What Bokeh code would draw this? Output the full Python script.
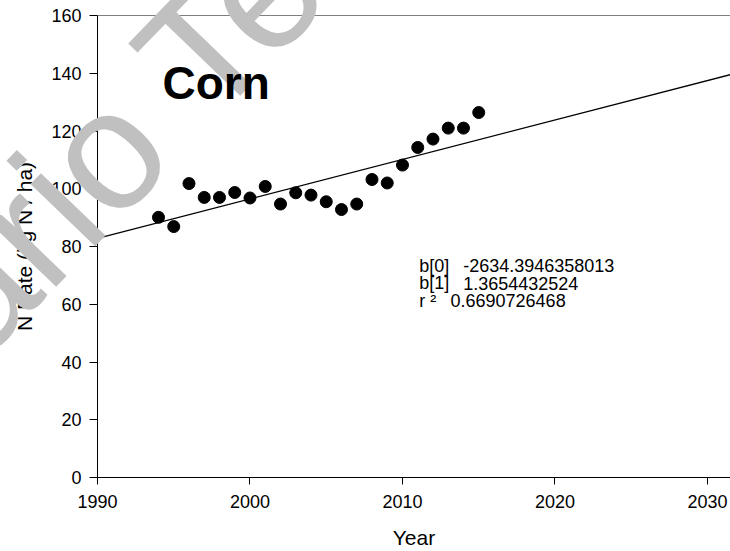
import math
from bokeh.plotting import figure
from bokeh.models import Label, Span, Range1d, ColumnDataSource
from bokeh.core.properties import value
from bokeh.embed import file_html
from bokeh.resources import INLINE

# ---- data ----
years = [1994, 1995, 1996, 1997, 1998, 1999, 2000, 2001, 2002, 2003, 2004,
         2005, 2006, 2007, 2008, 2009, 2010, 2011, 2012, 2013, 2014, 2015]
n_rate = [90.1, 86.9, 101.8, 97.0, 97.0, 98.7, 96.8, 100.8, 94.7, 98.6, 97.8,
          95.5, 92.8, 94.7, 103.2, 102.0, 108.2, 114.3, 117.2, 121.0, 121.0, 126.4]
b0 = -2634.3946358013
b1 = 1.3654432524
r2 = 0.6690726468
x_ticks = [1990, 2000, 2010, 2020, 2030]
y_ticks = [0, 20, 40, 60, 80, 100, 120, 140, 160]
x_start, x_end = 1990, 2031.51
y_start, y_end = 0, 160
title_text = "Corn"
x_title = "Year"
y_title = "N Rate (kg N / ha)"
stat_names = ["b[0]", "b[1]", "r \u00b2"]
stat_values = ["-2634.3946358013", "1.3654432524", "0.6690726468"]
watermark_text = "ario Te"

FONT = "Liberation Sans"

p = figure(width=730, height=551, output_backend="svg", toolbar_location=None,
           x_range=Range1d(x_start, x_end), y_range=Range1d(y_start, y_end),
           min_border_left=97, min_border_right=0, min_border_top=15,
           min_border_bottom=74)
p.outline_line_color = None
p.grid.visible = False
p.background_fill_color = "white"
p.border_fill_color = "white"

for ax in (p.xaxis[0], p.yaxis[0]):
    ax.axis_line_color = "black"
    ax.axis_line_width = 1
    ax.major_tick_line_color = "black"
    ax.major_tick_in = 0
    ax.minor_tick_line_color = None
    ax.major_label_text_font = FONT
    ax.major_label_text_font_size = "18px"
    ax.major_label_text_color = "black"
    ax.axis_label_text_font = FONT
    ax.axis_label_text_font_size = "21px"
    ax.axis_label_text_font_style = "normal"
    ax.axis_label_text_color = "black"

p.xaxis.ticker = x_ticks
p.yaxis.ticker = y_ticks
p.xaxis.major_tick_out = 7
p.yaxis.major_tick_out = 8
p.xaxis.major_label_standoff = 10
p.yaxis.major_label_standoff = 8
p.xaxis.axis_label = x_title
p.yaxis.axis_label = y_title
p.xaxis.axis_label_standoff = 15
p.yaxis.axis_label_standoff = 12

# top frame line
p.add_layout(Span(location=y_end, dimension="width", line_color="black", line_width=1))

# regression line
line_x = [x_start, x_end]
line_y = [b0 + b1 * x for x in line_x]
p.line(line_x, line_y, line_color="black", line_width=1.3)

# points
src = ColumnDataSource(dict(year=years, rate=n_rate))
p.scatter("year", "rate", source=src, size=12, fill_color="black", line_color="black")

# statistics text
stat_name_x = 2011.1
stat_value_x = [2013.98, 2013.98, 2013.15]
stat_y = [73.3, 67.3, 61.2]
for name, val, vx, yy in zip(stat_names, stat_values, stat_value_x, stat_y):
    p.add_layout(Label(x=stat_name_x, y=yy, text=name, text_font=FONT,
                       text_font_size="18px", text_color="black",
                       text_baseline="alphabetic"))
    p.add_layout(Label(x=vx, y=yy, text=val, text_font=FONT,
                       text_font_size="18px", text_color="black",
                       text_baseline="alphabetic"))

# watermark: a text glyph on the overlay level (not clipped to the frame)
p.text(x=[1979.66], y=[53.78], text=[watermark_text], angle=math.radians(46),
       text_font=value(FONT), text_font_size=value("170px"),
       text_color="#c0c0c0", text_baseline="alphabetic", level="overlay")

# title
p.text(x=[1994.26], y=[136.5], text=[title_text], text_font=value(FONT),
       text_font_size=value("46px"), text_font_style="bold",
       text_color="black", text_baseline="alphabetic", level="overlay")

open("out.html", "w").write(file_html(p, INLINE))
